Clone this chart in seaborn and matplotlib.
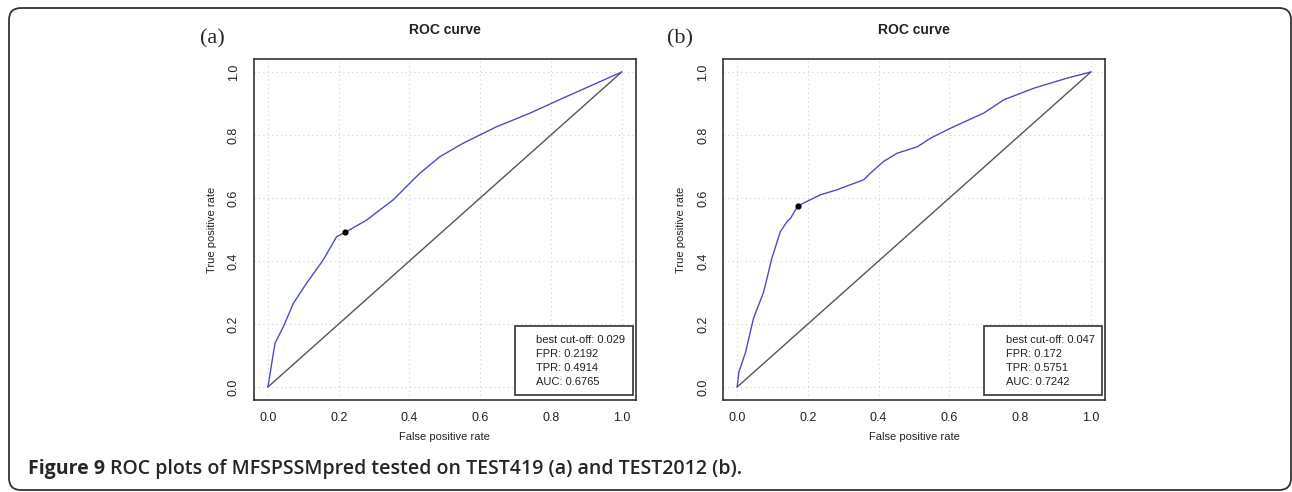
import numpy as np
import pandas as pd
import matplotlib
matplotlib.use("Agg")
from matplotlib import pyplot as plt
from matplotlib.patches import FancyBboxPatch, Rectangle
import seaborn as sns

# curva ROC del panel (a), TEST419
fpr_a = [0.0, 0.006, 0.02, 0.043, 0.072, 0.109, 0.156, 0.194, 0.2192, 0.279, 0.354,
         0.401, 0.429, 0.486, 0.552, 0.599, 0.646, 0.740, 0.834, 0.928, 1.0]
tpr_a = [0.0, 0.043, 0.139, 0.19, 0.266, 0.329, 0.403, 0.477, 0.4914, 0.530, 0.594,
         0.647, 0.678, 0.731, 0.774, 0.800, 0.826, 0.869, 0.917, 0.964, 1.0]

# curva ROC del panel (b), TEST2012
fpr_b = [0.0, 0.005, 0.024, 0.046, 0.075, 0.098, 0.122, 0.141, 0.151, 0.172, 0.197,
         0.235, 0.282, 0.320, 0.358, 0.377, 0.414, 0.452, 0.510, 0.547, 0.604, 0.698,
         0.754, 0.840, 0.934, 1.0]
tpr_b = [0.0, 0.048, 0.111, 0.217, 0.302, 0.408, 0.493, 0.525, 0.536, 0.5751, 0.589,
         0.610, 0.626, 0.642, 0.658, 0.679, 0.716, 0.742, 0.763, 0.790, 0.822, 0.870,
         0.912, 0.949, 0.981, 1.0]

diag_x = [0, 1]
diag_y = [0, 1]

panels = ["(a)", "(b)"]
best_fpr = [0.2192, 0.172]
best_tpr = [0.4914, 0.5751]
cutoffs = ["0.029", "0.047"]
fpr_txt = ["0.2192", "0.172"]
tpr_txt = ["0.4914", "0.5751"]
auc_txt = ["0.6765", "0.7242"]

ticks = [0.0, 0.2, 0.4, 0.6, 0.8, 1.0]
tick_labels = ["0.0", "0.2", "0.4", "0.6", "0.8", "1.0"]

caption_bold = "Figure 9"
caption_rest = "ROC plots of MFSPSSMpred tested on TEST419 (a) and TEST2012 (b)."

sns.set_style("white")
plt.rcParams['font.family'] = ['Liberation Sans', 'DejaVu Sans']

fig = plt.figure(figsize=(12.92, 4.92), dpi=100)

# marco redondeado de la figura
bg = fig.add_axes([0, 0, 1, 1], zorder=-5)
bg.set_xlim(0, 1292)
bg.set_ylim(492, 0)
bg.axis('off')
bg.add_patch(FancyBboxPatch((9, 8), 1282, 482, boxstyle="round,pad=0,rounding_size=12",
                            fill=False, ec="#333333", lw=1.3))

W, H = 1292, 492
lefts = [253.8, 723.0]
curves = [(fpr_a, tpr_a), (fpr_b, tpr_b)]
label_x = [212, 680]

for i in range(2):
    ax = fig.add_axes([lefts[i] / W, 1 - 399.6 / H, 382.0 / W, 340.2 / H])
    fx, ty = curves[i]
    df = pd.DataFrame({'fpr': fx, 'tpr': ty})
    ax.plot(diag_x, diag_y, color="#555555", lw=1.0, zorder=2)
    sns.lineplot(data=df, x='fpr', y='tpr', ax=ax, color="#4c4cc4", lw=1.0,
                 estimator=None, sort=False, zorder=3)
    ax.scatter([best_fpr[i]], [best_tpr[i]], color='black', s=12, zorder=5)

    ax.set_xlim(-0.04, 1.04)
    ax.set_ylim(-0.04, 1.04)
    ax.set_xticks(ticks)
    ax.set_xticklabels(tick_labels)
    ax.set_yticks(ticks)
    ax.set_yticklabels(tick_labels, rotation=90, va='center')
    ax.grid(True, linestyle=(0, (1, 3)), color='#cfcfcf', lw=0.8)
    for sp in ax.spines.values():
        sp.set_visible(True)
        sp.set_color('#333333')
        sp.set_linewidth(1.2)
    ax.tick_params(direction='out', length=5, width=0.9, color='#333333',
                   labelsize=9, pad=4, labelcolor='#222222')
    ax.tick_params(axis='y', pad=5)
    ax.set_xlabel("False positive rate", fontsize=8, labelpad=6, color='#222222')
    ax.set_ylabel("True positive rate", fontsize=8, labelpad=8, color='#222222')
    ax.set_title("ROC curve", fontsize=10, fontweight='bold', pad=18, color='#222222')

    # cuadro con el mejor punto de corte
    ax.add_patch(Rectangle((0.683, 0.014), 0.309, 0.203, transform=ax.transAxes,
                           facecolor='white', edgecolor='#333333', lw=1.2, zorder=4))
    lines = ["best cut-off: " + cutoffs[i], "FPR: " + fpr_txt[i],
             "TPR: " + tpr_txt[i], "AUC: " + auc_txt[i]]
    for k, line in enumerate(lines):
        ax.text(0.74, 0.175 - k * 0.041, line, transform=ax.transAxes, fontsize=8,
                va='center', ha='left', color='#222222', zorder=6)

    fig.text(label_x[i] / W, 1 - 39 / H, panels[i], fontsize=16, ha='center', va='center',
             family=['Liberation Serif', 'DejaVu Serif'])

# pie de figura
t1 = fig.text(28 / W, 1 - 469 / H, caption_bold, fontsize=14, fontweight='bold',
              family=['Open Sans', 'DejaVu Sans'], va='center', ha='left')
fig.canvas.draw()
bb = t1.get_window_extent()
fig.text((bb.x1 + 5) / W, 1 - 469 / H, caption_rest, fontsize=14, fontweight='semibold',
         family=['Open Sans', 'DejaVu Sans'], va='center', ha='left')

plt.savefig('out.png', dpi=100)
